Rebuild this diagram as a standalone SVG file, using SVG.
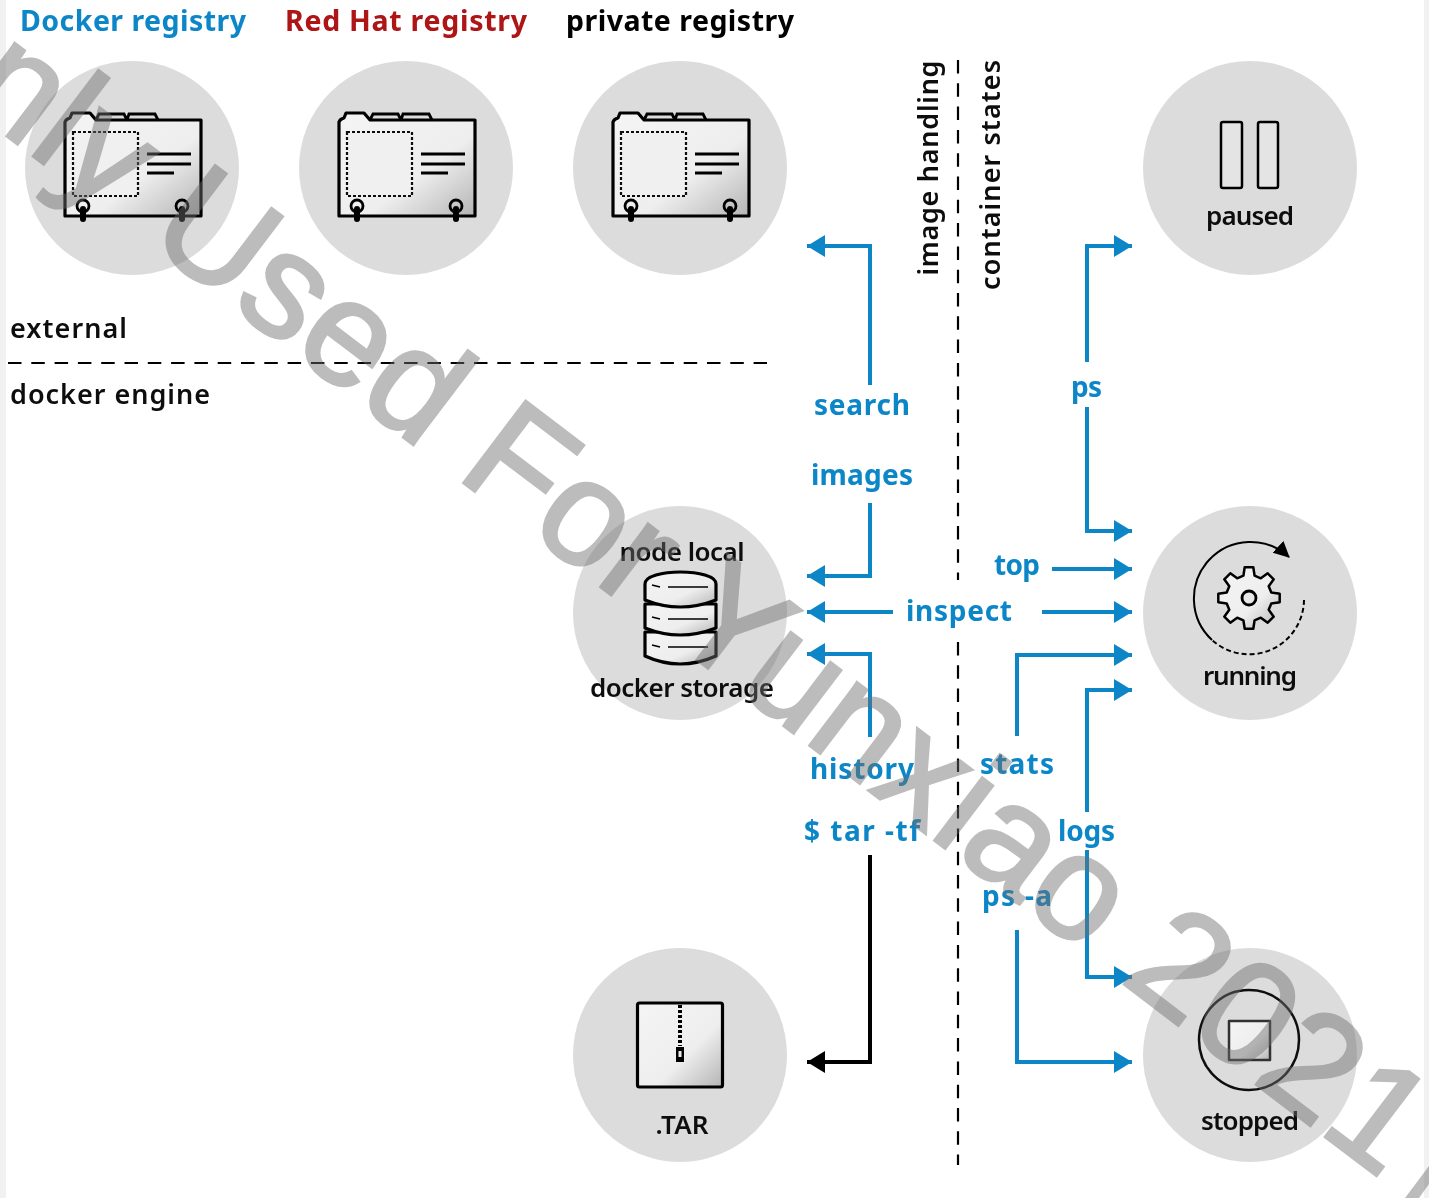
<svg xmlns="http://www.w3.org/2000/svg" xmlns:xlink="http://www.w3.org/1999/xlink" width="1429" height="1198" viewBox="0 0 1429 1198">
<style>
text{font-family:"Noto Sans","Open Sans","Liberation Sans",sans-serif;font-size:26px;text-anchor:middle;fill:#111;font-weight:600}
.b{fill:#0a86c8;font-weight:700;font-size:28px}
.h{font-weight:700;font-size:28.5px}
.c{fill:#dcdcdc}
.w{fill:none;stroke:#0a86c8;stroke-width:4;stroke-linejoin:miter}
.k{fill:none;stroke:#000;stroke-width:4}
.o{fill:url(#g);stroke:#000;stroke-width:3.2;stroke-linejoin:round}
.i{fill:none;stroke:#000;stroke-width:2.8}
.d{fill:none;stroke:#000;stroke-width:2.2;stroke-dasharray:13.5 9.8}
.wm{font-family:"Liberation Sans",Arial,sans-serif;font-size:149px;font-weight:400;text-anchor:start;fill:#6e6e6e;stroke:#6e6e6e;stroke-width:3;opacity:.46}
</style>
<defs>
<linearGradient id="g" x1="0" y1="0" x2="1" y2="1"><stop offset="0" stop-color="#f4f4f4"/><stop offset=".6" stop-color="#eeeeee"/><stop offset="1" stop-color="#b4b4b4"/></linearGradient>
<marker id="ab" markerUnits="userSpaceOnUse" markerWidth="20" markerHeight="24" refX="18" refY="11" orient="auto"><path d="M0,0L18,11L0,22Z" fill="#0a86c8"/></marker>
<marker id="ak" markerUnits="userSpaceOnUse" markerWidth="20" markerHeight="24" refX="18" refY="11" orient="auto"><path d="M0,0L18,11L0,22Z" fill="#000"/></marker>
<marker id="ar" markerUnits="userSpaceOnUse" markerWidth="20" markerHeight="20" refX="15" refY="8" orient="auto"><path d="M0,0L16,8L0,16Z" fill="#000"/></marker>
<filter id="s" x="-5%" y="-5%" width="110%" height="110%"><feGaussianBlur stdDeviation="0.6"/></filter>
<g id="card">
<path class="o" d="M-67,48V-46Q-66,-49 -62,-50L-60,-55H-42L-36,-48H69V48Z"/>
<path class="i" d="M-36,-48L-33,-54H-8L-5,-48M-5,-48L-3,-54H23L26,-48"/>
<rect x="-59" y="-36" width="65" height="64" fill="#f0f0f0" stroke="#111" stroke-width="2.2" stroke-dasharray="3 2"/>
<path class="i" d="M15,-14H59M15,-4H59M15,5H42"/>
<circle cx="-49" cy="38" r="6" class="i"/><circle cx="50" cy="38" r="6" class="i"/>
<path d="M-49,41V51M50,41V51" fill="none" stroke="#000" stroke-width="6" stroke-linecap="round"/>
</g>
</defs>
<rect width="1429" height="1198" fill="#fff"/>
<rect width="6" height="1198" fill="#f1f1f1"/><rect x="1424" width="5" height="1198" fill="#f1f1f1"/>
<g filter="url(#s)">
<g id="docker-registry"><circle class="c" cx="132" cy="168" r="107"/><use xlink:href="#card" href="#card" x="132" y="168"/></g>
<g id="redhat-registry"><circle class="c" cx="406" cy="168" r="107"/><use xlink:href="#card" href="#card" x="406" y="168"/></g>
<g id="private-registry"><circle class="c" cx="680" cy="168" r="107"/><use xlink:href="#card" href="#card" x="680" y="168"/></g>
<g id="titles">
<text class="b h" x="133" y="31" textLength="226">Docker registry</text>
<text class="h" x="406" y="31" textLength="242" style="fill:#ae1218">Red Hat registry</text>
<text class="h" x="680" y="31" textLength="228" style="fill:#000">private registry</text>
<text x="68.500" y="338" textLength="117" style="font-size:27px">external</text>
<text x="110" y="404" textLength="200" style="font-size:27px">docker engine</text>
<text x="938" y="168" textLength="215" transform="rotate(-90 938 168)" style="font-size:27px">image handling</text>
<text x="1000" y="175" textLength="230" transform="rotate(-90 1000 175)" style="font-size:27px">container states</text>
</g>
<g id="dividers">
<path class="d" d="M8,363H767"/>
<path class="d" d="M958,60V580M958,642V1165"/>
</g>
<g id="paused"><circle class="c" cx="1250" cy="168" r="107"/>
<rect class="o" x="1221" y="122" width="21" height="66" rx="2" style="fill:#e4e4e4;stroke-width:2.5"/><rect class="o" x="1258" y="122" width="20" height="66" rx="2" style="fill:#e4e4e4;stroke-width:2.5"/>
<text x="1250" y="225" textLength="88">paused</text></g>
<g id="node-local"><circle class="c" cx="680" cy="613" r="107"/>
<path class="o" d="M645,632V656Q680,672 716,656V632Z"/>
<path class="o" d="M645,604V628Q680,642 716,628V604Z"/>
<path class="o" d="M645,584C645,568 716,568 716,584V600Q680,614 645,600Z"/>
<path class="i" d="M652,585L660,587M668,587H708M652,617L660,619M668,619H708M652,645L660,647M668,647H708" style="stroke-width:1.6"/>
<text x="682" y="561" textLength="125">node local</text>
<text x="682" y="697" textLength="184">docker storage</text></g>
<g id="running"><circle class="c" cx="1250" cy="613" r="107"/>
<path d="M1212,640A55,55 0 0 1 1289,557" fill="none" stroke="#000" stroke-width="2" marker-end="url(#ar)"/>
<path d="M1304,600A55,55 0 0 1 1212,640" fill="none" stroke="#000" stroke-width="2" stroke-dasharray="5 3"/>
<g transform="translate(1249,598)"><path class="o" style="stroke-width:2.5" d="M22.3,-5.6L30.7,-4.3 30.7,4.3 22.3,5.6 19.7,11.8 24.7,18.7 18.7,24.7 11.8,19.7 5.6,22.3 4.3,30.7 -4.3,30.7 -5.6,22.3 -11.8,19.7 -18.7,24.7 -24.7,18.7 -19.7,11.8 -22.3,5.6 -30.7,4.3 -30.7,-4.3 -22.3,-5.6 -19.7,-11.8 -24.7,-18.7 -18.7,-24.7 -11.8,-19.7 -5.6,-22.3 -4.3,-30.7 4.3,-30.7 5.6,-22.3 11.8,-19.7 18.7,-24.7 24.7,-18.7 19.7,-11.8Z"/><circle r="7" class="i" style="fill:#e8e8e8"/></g>
<text x="1250" y="685" textLength="94">running</text></g>
<g id="tar"><circle class="c" cx="680" cy="1055" r="107"/>
<rect class="o" x="637.500" y="1003" width="85" height="84" rx="2"/>
<path d="M680,1005V1046" stroke="#000" stroke-width="4" stroke-dasharray="3 2" fill="none"/><rect x="676" y="1047" width="8" height="15" fill="#000"/><rect x="678.500" y="1051" width="3" height="6" fill="#eee"/>
<text x="682" y="1134" textLength="53">.TAR</text></g>
<g id="stopped"><circle class="c" cx="1250" cy="1055" r="107"/>
<circle cx="1249" cy="1040" r="50" fill="none" stroke="#111" stroke-width="2.500"/>
<rect class="o" x="1229" y="1021" width="41" height="39" style="stroke-width:2.500;stroke:#333"/>
<text x="1250" y="1130" textLength="98">stopped</text></g>
<g id="connectors">
<path class="w" marker-end="url(#ab)" d="M870,385V246H807"/>
<path class="w" marker-end="url(#ab)" d="M870,503V576H807"/>
<path class="w" marker-end="url(#ab)" d="M893,612H807"/>
<path class="w" marker-end="url(#ab)" d="M1042,612H1132"/>
<path class="w" marker-end="url(#ab)" d="M870,737V654H807"/>
<path class="k" marker-end="url(#ak)" d="M870,855V1062H807"/>
<path class="w" marker-end="url(#ab)" d="M1087,362V246H1132"/>
<path class="w" marker-end="url(#ab)" d="M1087,407V531H1132"/>
<path class="w" marker-end="url(#ab)" d="M1052,569H1132"/>
<path class="w" marker-end="url(#ab)" d="M1017,736V655H1132"/>
<path class="w" marker-end="url(#ab)" d="M1087,812V690H1132"/>
<path class="w" marker-end="url(#ab)" d="M1087,850V977H1132"/>
<path class="w" marker-end="url(#ab)" d="M1017,930V1062H1132"/>
</g>
<g id="connector-labels">
<text class="b" x="862" y="415" textLength="96">search</text>
<text class="b" x="862" y="485" textLength="102">images</text>
<text class="b" x="959" y="621" textLength="106">inspect</text>
<text class="b" x="1017" y="575" textLength="46">top</text>
<text class="b" x="1086.500" y="397" textLength="31">ps</text>
<text class="b" x="862" y="779" textLength="104">history</text>
<text class="b" x="862" y="841" textLength="116">$ tar -tf</text>
<text class="b" x="1017" y="774" textLength="74">stats</text>
<text class="b" x="1086.500" y="841" textLength="57">logs</text>
<text class="b" x="1017" y="906" textLength="70">ps -a</text>
</g>
</g>
<text class="wm" transform="translate(-133,30) rotate(37.2)">Only Used For Yunxiao 2021</text>
<path d="M1405,1198L1429,1166V1184L1419,1198Z" fill="#6e6e6e" opacity=".46"/>
</svg>
